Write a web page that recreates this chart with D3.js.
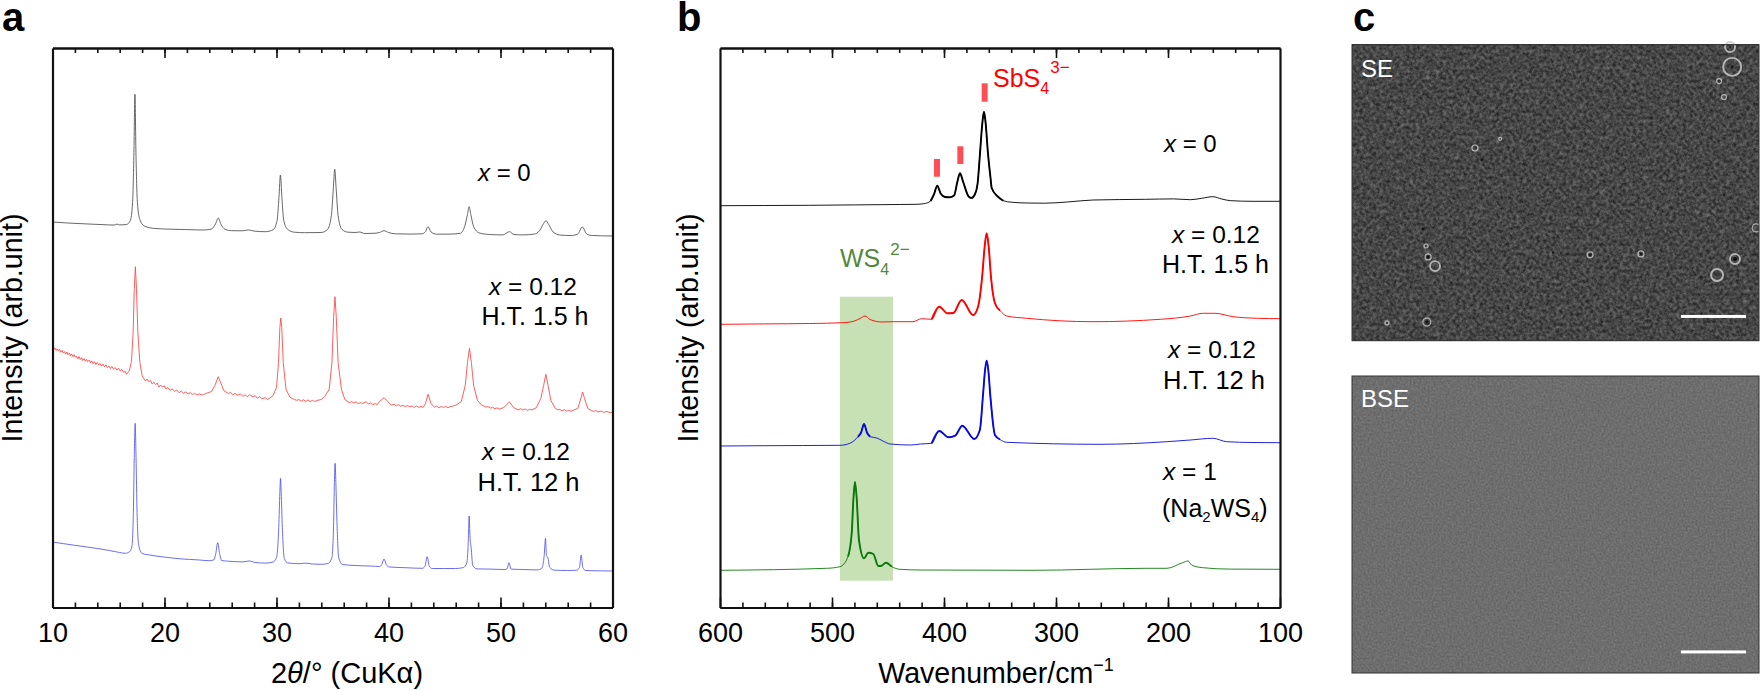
<!DOCTYPE html>
<html>
<head>
<meta charset="utf-8">
<script src="https://cdn.jsdelivr.net/npm/d3@7"></script>
<style>
  html, body { margin: 0; padding: 0; background: #fff; }
  text { font-family: "Liberation Sans", Arial, sans-serif; }
</style>
</head>
<body>
<div id="chart"></div>
<script>
// panel a: XRD patterns, [2theta, intensity]
const xrdBlack = [[10,385.5],[11.5,384.4],[13,383.6],[15,382.6],[15.5,382.4],[15.75,383.4],[16,382.6],[16.6,383],[16.95,387],[17.15,405],[17.27,455],[17.36,513.2],[17.45,455],[17.58,405],[17.8,388],[18.2,381.5],[19,379.2],[20.5,378.3],[22,377.9],[23.5,377.5],[24.2,378.5],[24.55,383.5],[24.8,389.5],[25.05,383],[25.4,378.2],[26,376.8],[27,376.7],[27.5,377.6],[28,376.4],[29,375.8],[29.7,377.8],[30.05,387],[30.22,410],[30.35,432.5],[30.48,410],[30.65,387],[31,378],[31.6,375.3],[32.5,374.8],[34,375],[34.55,378],[34.9,392],[35.08,420],[35.2,438.2],[35.32,420],[35.5,392],[35.85,378],[36.4,375.3],[37,375],[37.4,375.5],[37.9,374],[38.7,374.2],[39.2,375],[39.6,376.8],[40,375],[40.6,373.7],[42,373.4],[43,373.7],[43.3,375.8],[43.52,380.8],[43.8,375.5],[44.3,373.3],[45.5,373.4],[46.4,374.2],[46.8,381],[47.05,393],[47.2,400.8],[47.35,393],[47.6,381],[48.1,374.6],[49,373],[50.2,372.6],[50.8,375.8],[51.2,373],[52,372.6],[53,373.4],[53.5,377],[53.85,384],[54.06,386.8],[54.3,383],[54.7,375.5],[55.3,372.5],[56.3,372],[56.9,373.5],[57.3,380.5],[57.7,373.5],[58.2,372],[60,371.5]];
const xrdRed = [[10,259.5],[10.12,258.2],[10.21,259.6],[10.33,257],[10.42,258.6],[10.55,256.4],[10.63,258],[10.74,255.2],[10.86,257.2],[10.95,254.6],[11.08,255.9],[11.17,253.4],[11.29,255.6],[11.38,252.8],[11.5,254.4],[11.61,251.4],[11.7,253.6],[11.83,250.8],[11.92,252.8],[12.04,250.2],[12.13,251.4],[12.27,248.6],[12.36,251],[12.48,248],[12.6,249.8],[12.69,247],[12.82,249],[12.93,246.2],[13.05,248.2],[13.14,245.8],[13.28,247.4],[13.4,244.6],[13.5,246.6],[13.63,244],[13.75,245.8],[13.88,243],[14,245],[14.12,242.6],[14.26,244],[14.38,241.4],[14.5,243.4],[14.64,240.8],[14.77,242.6],[14.9,240],[15.03,241.6],[15.18,239],[15.3,241],[15.45,238.4],[15.6,240],[15.74,237.4],[15.9,239.2],[16.05,236.6],[16.2,238],[16.35,235.2],[16.5,236.2],[16.6,233.2],[16.85,236.5],[17.05,246],[17.2,275],[17.3,318],[17.4,340.8],[17.5,318],[17.62,275],[17.8,245],[18,232],[18.15,229],[18.3,226.5],[18.45,228.4],[18.6,225.8],[18.75,227],[18.9,223.4],[19.05,225.2],[19.2,222.8],[19.35,224.4],[19.5,220.4],[19.65,222.4],[19.8,220.6],[20,221.6],[20.1,218.6],[20.3,220],[20.5,217.2],[20.7,218.6],[20.9,216],[21.1,217.6],[21.3,214.8],[21.5,216.4],[21.7,214.2],[21.9,215.6],[22.1,213.4],[22.3,215],[22.5,212.8],[22.7,214.2],[22.9,212.4],[23.1,213.6],[23.4,212.4],[23.7,214],[23.9,214.8],[24.2,216],[24.5,222],[24.8,230.8],[25.05,224],[25.3,216.8],[25.5,215.4],[25.7,214],[25.9,215.2],[26.1,212.8],[26.3,214],[26.5,212.4],[26.8,213.4],[27,211.2],[27.2,212.6],[27.4,210.8],[27.6,212.8],[27.9,210.6],[28.1,211.8],[28.3,209.2],[28.5,210.8],[28.7,208.8],[29,209.8],[29.2,208],[29.4,209.4],[29.7,212],[30,220],[30.18,245],[30.3,280],[30.38,289.5],[30.47,280],[30.6,245],[30.85,218],[31.2,210.5],[31.4,209],[31.6,208],[31.8,207.2],[32,208],[32.2,206.2],[32.4,207.8],[32.6,206],[32.8,207.6],[33,205.8],[33.2,207.2],[33.4,206],[33.6,207],[34,208],[34.3,211],[34.7,218],[34.95,245],[35.1,290],[35.22,310.8],[35.34,290],[35.5,245],[35.8,218],[36.1,208],[36.3,206.4],[36.5,204.8],[36.7,206],[36.9,204.6],[37.1,205.6],[37.3,203.8],[37.5,205],[37.7,204],[38,205.8],[38.2,203.6],[38.4,204.6],[38.6,202.8],[38.8,203.8],[39,203],[39.2,206],[39.6,209.8],[39.95,205.8],[40.1,203.8],[40.3,202.4],[40.5,203.2],[40.7,201.6],[40.9,203],[41.1,201.2],[41.3,202.2],[41.5,200.8],[41.7,202],[41.9,200.6],[42.1,201.6],[42.3,200],[42.5,201.6],[42.7,200.2],[42.9,201],[43.1,200.2],[43.3,204],[43.53,213.2],[43.8,204],[44.1,200.2],[44.3,201.4],[44.5,199.8],[44.7,201],[44.9,200],[45.1,201.2],[45.3,199.8],[45.5,200.8],[45.7,201.2],[46.1,202.8],[46.5,206],[46.85,222],[47.05,245],[47.23,259.2],[47.4,245],[47.6,222],[47.95,207],[48.3,202.5],[48.5,201.6],[48.7,200.4],[48.9,201],[49.1,199.4],[49.3,200.2],[49.5,198.8],[49.7,199.6],[49.9,198.4],[50.3,200],[50.8,205.5],[51.2,199.6],[51.4,198.6],[51.6,197.6],[51.8,198.8],[52,197.4],[52.2,198.6],[52.4,197.2],[52.6,198.2],[52.8,197.6],[53.2,199.8],[53.6,209],[53.85,222],[54.05,233.2],[54.25,222],[54.5,207],[54.9,199],[55.1,197.8],[55.3,198],[55.5,196.8],[55.7,197.8],[55.9,196.4],[56.1,197.2],[56.3,196.2],[56.5,197.4],[56.9,199],[57.2,210],[57.33,215.5],[57.5,209],[57.8,199],[58.1,197],[58.3,196],[58.5,197],[58.7,195.6],[59,196.4],[59.2,195.2],[59.5,196],[59.8,194.8],[60,195]];
const xrdBlue = [[10,65.5],[11,63.8],[12,62.2],[13,60.6],[14,59],[15,57.2],[16,55],[16.5,54.2],[16.9,56],[17.1,62],[17.22,95],[17.3,150],[17.38,184.2],[17.46,150],[17.55,95],[17.7,62],[18,54],[18.5,52.8],[20,50.4],[21.5,48.6],[23,47.6],[24,46.8],[24.4,47.6],[24.58,54],[24.75,64.8],[24.92,54],[25.1,47],[25.6,46.4],[27,45.6],[27.6,46.6],[28,45.2],[29,44.4],[29.7,45.5],[30,50],[30.2,80],[30.3,115],[30.36,129.2],[30.42,115],[30.52,80],[30.7,49],[31,44.6],[32,43.8],[32.6,44.4],[33.2,43.5],[34,43.2],[34.6,44],[34.95,50],[35.1,85],[35.17,125],[35.23,144.2],[35.3,125],[35.4,85],[35.55,50],[35.9,43],[37,42],[38.5,41.4],[39.2,41],[39.4,43],[39.6,48.5],[39.8,43],[40,40.6],[41.5,39.8],[43,39.2],[43.25,41],[43.45,50.8],[43.65,41],[43.9,39],[45,39],[46,39],[46.7,40],[47,45],[47.12,65],[47.2,91.5],[47.28,70],[47.38,60],[47.52,42],[47.9,38.6],[49,38.4],[50.4,38],[50.6,39],[50.75,44.8],[50.95,38.4],[52,38],[53.3,37.6],[53.7,39.5],[53.9,52],[54.02,69.2],[54.1,52],[54.22,50],[54.4,40],[54.8,37.4],[56,37],[56.8,37.2],[57.05,40],[57.2,52.5],[57.35,40],[57.6,37],[60,36.5]];

// panel b: Raman spectra, [wavenumber, intensity]
const ramanBlack = [[600,401.8],[560,402],[520,402.2],[480,402.6],[440,403],[425,403.2],[418,403.8],[412,406.5],[409,413],[406,421.8],[403,414],[399,410.5],[395,410.2],[391,412],[388,426],[385.7,434.2],[383,426],[378,411],[375.5,409.5],[372.5,413],[370,424],[367.8,455],[365.8,484],[364.3,495.8],[362.8,484],[360.8,455],[358.5,430],[357.4,419.5],[352,411],[347,406.8],[340,405.3],[326,404.5],[310,404.3],[290,405.5],[267,407.5],[220,408.2],[195,408.6],[180,407.8],[170,409.2],[160,410.8],[152,408.5],[144,406.8],[125,406.2],[100,406.2]];
const ramanRed = [[600,283.2],[560,283.6],[520,284],[490,284.8],[480,286.5],[475,289],[470.5,291.5],[466,288],[455,285.5],[445.5,285.8],[427.7,285.8],[420,288.8],[411,288.2],[404.2,300.8],[397,294.2],[391.7,294.5],[384.2,307.5],[374,292.5],[369.6,300.8],[366,330],[363.6,362],[361.9,374.2],[360.2,362],[358,330],[354.5,304.2],[350,297],[344,291.5],[326,289.2],[267,285.8],[207,288.2],[180,291.5],[169,294.2],[158,294.2],[142,290.8],[120,289.2],[100,288.8]];
const ramanBlue = [[600,161.5],[560,161.8],[492.9,162.2],[484,164.2],[476.8,170.8],[474,175],[471.4,183.5],[468.8,175],[466,170.8],[460,169.5],[454.5,166.5],[448,163.5],[430,162.5],[421,163.5],[411,164.2],[404.2,176.5],[396,170.2],[390,171.8],[383.7,181.8],[373,168.5],[368,177.5],[365,215],[363.3,238],[361.9,246.8],[360.5,238],[358.5,210],[354.5,172.5],[350,168],[344,165.2],[260.7,163.2],[201,165.8],[180,167.5],[160,169.2],[147.6,165.8],[125,165],[100,164.8]];
const ramanGreen = [[600,37.2],[504.7,39.2],[492.9,40.8],[485.7,50.8],[482.4,74.5],[480.8,110],[479.5,125.5],[478,110],[475.9,67.5],[471.4,49.2],[467.6,54.8],[463.1,53.5],[458.7,41.5],[455.6,41.8],[452,44.8],[446.7,40.8],[439.3,38.2],[421,37.5],[320.5,37.2],[219,39.2],[201,39.2],[187,44.8],[182,46.5],[179,42.5],[169,39.8],[145,38.4],[100,38.2]];

// stretches of each spectrum that print heavier in the reference
const blackBold = [[416,345]];
const redBold = [[412,346]];
const blueBold = [[480,462],[412,346]];
const greenBold = [[490,446]];

// WS4 band and SbS4 markers
const bandWave = [492.9, 445.5];
const bandLevel = [26.8, 310.8];
const markerWave = [406.3, 385.4, 363.7];
const markerLow = [430.8, 443.5, 505.8];
const markerHigh = [448.5, 461.2, 524.2];

// ticks
const xrdMajor = [10, 20, 30, 40, 50, 60];
const xrdMinor = d3.range(12, 60, 2);
const ramanMajor = [600, 500, 400, 300, 200, 100];
const ramanMinor = d3.range(120, 600, 20);

// panel c: features on the SE micrograph, read on a 0-1000 image grid
const grainU = [302, 319, 364, 174, 187, 204, 182, 184, 86, 934, 929, 902, 914, 585, 710, 494, 941, 897, 993];
const grainV = [349, 389, 318, 623, 717, 748, 680, 937, 940, 75, 8, 123, 177, 710, 707, 703, 724, 778, 619];
const grainR = [3, 0, 1.5, 0, 3, 5, 2, 4, 2, 9, 5, 2.5, 2.5, 3, 3, 0, 5, 6, 4];
const grainDark = [0, 1.6, 0, 1.6, 1.6, 0, 0, 1.8, 0, 1.5, 1, 0, 0, 1.3, 1.3, 1.2, 2.2, 0, 0];

const width = 1760, height = 690;
const svg = d3.select('#chart').append('svg').attr('width', width).attr('height', height).style('display', 'block');

const x1 = d3.scaleLinear().domain([10, 60]).range([52.5, 612.5]);
const x2 = d3.scaleLinear().domain([600, 100]).range([720, 1280]);
const y = d3.scaleLinear().domain([0, 559.5]).range([607.5, 48]);

const seX = d3.scaleLinear().domain([0, 1000]).range([1352, 1759]);
const seY = d3.scaleLinear().domain([0, 1000]).range([44.7, 340.7]);
const bseY = d3.scaleLinear().domain([0, 1000]).range([376, 673]);

function label(x0, y0, parts, size, fill, anchor) {
  const t = svg.append('text').attr('x', x0).attr('y', y0).attr('font-size', size).attr('fill', fill || '#000');
  if (anchor) t.attr('text-anchor', anchor);
  parts.forEach(p => {
    const s = t.append('tspan').text(p.t);
    if (p.i) s.attr('font-style', 'italic');
    if (p.s) s.attr('font-size', p.s);
    if (p.dy) s.attr('dy', p.dy);
    if (p.dx) s.attr('dx', p.dx);
  });
  return t;
}

function drawFrame(x, major, minor, fmt) {
  const [a, b] = x.range();
  const g = svg.append('g').attr('class', 'frame');
  const inner = t => t !== x.domain()[0] && t !== x.domain()[1];
  g.append('g').attr('transform', `translate(0,${y(0)})`)
    .call(d3.axisBottom(x).tickValues(major).tickSizeInner(-10).tickSizeOuter(0).tickPadding(15).tickFormat(fmt))
    .call(s => s.selectAll('text').attr('font-size', 27).attr('fill', '#000').style('font-family', '"Liberation Sans"'));
  g.append('g').attr('transform', `translate(0,${y(0)})`)
    .call(d3.axisBottom(x).tickValues(minor).tickSizeInner(-5).tickSizeOuter(0).tickFormat(''));
  g.append('g').attr('transform', `translate(0,${y(559.5)})`)
    .call(d3.axisTop(x).tickValues(major.filter(inner)).tickSizeInner(-10).tickSizeOuter(0).tickFormat(''));
  g.append('g').attr('transform', `translate(0,${y(559.5)})`)
    .call(d3.axisTop(x).tickValues(minor).tickSizeInner(-5).tickSizeOuter(0).tickFormat(''));
  g.append('g').attr('transform', `translate(${a},0)`).call(d3.axisLeft(y).tickValues([]).tickSizeOuter(0));
  g.append('g').attr('transform', `translate(${b},0)`).call(d3.axisRight(y).tickValues([]).tickSizeOuter(0));
  g.selectAll('.domain').attr('stroke', '#111').attr('stroke-width', 2.2);
  g.selectAll('.tick line').attr('stroke', '#111').attr('stroke-width', 1.6);
}

function drawLine(x, data, color, w, opacity, bold, curve) {
  const line = d3.line().x(d => x(d[0])).y(d => y(d[1])).curve(curve || d3.curveMonotoneX);
  svg.append('path').attr('d', line(data)).attr('fill', 'none').attr('stroke', color)
    .attr('stroke-width', w).attr('opacity', opacity).attr('stroke-linejoin', 'round');
  (bold || []).forEach(r => {
    const part = data.filter(d => d[0] <= r[0] && d[0] >= r[1]);
    svg.append('path').attr('d', line(part)).attr('fill', 'none').attr('stroke', color)
      .attr('stroke-width', 1.9).attr('stroke-linejoin', 'round');
  });
}

// panel a
drawLine(x1, xrdBlack, '#444', 0.9, 0.9);
drawLine(x1, xrdRed, '#ff4d4d', 1, 0.9, null, d3.curveLinear);
drawLine(x1, xrdBlue, '#4a4ae6', 0.9, 0.9);
drawFrame(x1, xrdMajor, xrdMinor, d3.format('d'));

label(2, 31, [{ t: 'a' }], 40).attr('font-weight', 'bold');
label(22, 328, [{ t: 'Intensity (arb.unit)' }], 28.6, '#000', 'middle').attr('transform', 'rotate(-90 22 328)');
label(347, 683, [{ t: '2' }, { t: 'θ', i: 1 }, { t: '/° (CuKα)' }], 29, '#000', 'middle');

label(478, 181, [{ t: 'x', i: 1 }, { t: ' = 0' }], 24);
label(489, 295, [{ t: 'x', i: 1 }, { t: ' = 0.12' }], 24.5);
label(481.5, 325, [{ t: 'H.T. 1.5 h' }], 25);
label(482, 460, [{ t: 'x', i: 1 }, { t: ' = 0.12' }], 24.5);
label(477.5, 490.7, [{ t: 'H.T. 12 h' }], 25.5);

// panel b
svg.append('rect')
  .attr('x', x2(bandWave[0])).attr('width', x2(bandWave[1]) - x2(bandWave[0]))
  .attr('y', y(bandLevel[1])).attr('height', y(bandLevel[0]) - y(bandLevel[1]))
  .attr('fill', '#c7e1b5');

drawLine(x2, ramanBlack, '#000', 0.9, 1, blackBold);
drawLine(x2, ramanRed, '#f00', 0.9, 1, redBold);
drawLine(x2, ramanBlue, '#0a0ad8', 0.9, 1, blueBold);
drawLine(x2, ramanGreen, '#0b7a0b', 0.9, 1, greenBold);

svg.selectAll('.marker').data(markerWave).enter().append('rect').attr('class', 'marker')
  .attr('x', d => x2(d) - 3).attr('width', 6)
  .attr('y', (d, i) => y(markerHigh[i])).attr('height', (d, i) => y(markerLow[i]) - y(markerHigh[i]))
  .attr('fill', '#ff4d55');

drawFrame(x2, ramanMajor, ramanMinor, d3.format('d'));

label(677, 31, [{ t: 'b' }], 40).attr('font-weight', 'bold');
label(698, 328, [{ t: 'Intensity (arb.unit)' }], 28.6, '#000', 'middle').attr('transform', 'rotate(-90 698 328)');
label(996, 683, [{ t: 'Wavenumber/cm' }, { t: '−1', s: 18, dy: -12 }], 28.6, '#000', 'middle');

label(993, 87, [{ t: 'SbS' }, { t: '4', s: 16, dy: 7 }, { t: '3−', s: 17, dy: -21, dx: 1 }], 25, '#f00');
label(840, 267, [{ t: 'WS' }, { t: '4', s: 16, dy: 8 }, { t: '2−', s: 17, dy: -20, dx: 1 }], 25, '#55883b');

label(1164, 152, [{ t: 'x', i: 1 }, { t: ' = 0' }], 24);
label(1172, 243, [{ t: 'x', i: 1 }, { t: ' = 0.12' }], 24.5);
label(1162, 273, [{ t: 'H.T. 1.5 h' }], 25);
label(1168, 358, [{ t: 'x', i: 1 }, { t: ' = 0.12' }], 24.5);
label(1163, 389, [{ t: 'H.T. 12 h' }], 25.5);
label(1163, 480, [{ t: 'x', i: 1 }, { t: ' = 1' }], 24.5);
label(1162, 517, [{ t: '(Na' }, { t: '2', s: 15, dy: 5 }, { t: 'WS', dy: -5 }, { t: '4', s: 15, dy: 5 }, { t: ')', dy: -5 }], 25);

// panel c: micrographs, grain texture from a noise filter
const defs = svg.append('defs');
function noiseFilter(id, freq, octaves, seed, gain, offset) {
  const f = defs.append('filter').attr('id', id).attr('x', 0).attr('y', 0).attr('width', '100%').attr('height', '100%')
    .attr('color-interpolation-filters', 'sRGB');
  f.append('feTurbulence').attr('type', 'fractalNoise').attr('baseFrequency', freq).attr('numOctaves', octaves).attr('seed', seed);
  const row = `${gain} 0 0 0 ${offset}`;
  f.append('feColorMatrix').attr('type', 'matrix').attr('values', `${row} ${row} ${row} 0 0 0 0 1`);
}
noiseFilter('seNoise', 0.3, 3, 7, 0.4, 0.07);
noiseFilter('bseNoise', 0.5, 2, 3, 0.16, 0.35);

// sparse bright specks on the SE image
const speck = defs.append('filter').attr('id', 'seSpeck').attr('x', 0).attr('y', 0).attr('width', '100%').attr('height', '100%')
  .attr('color-interpolation-filters', 'sRGB');
speck.append('feTurbulence').attr('type', 'fractalNoise').attr('baseFrequency', 0.2).attr('numOctaves', 2).attr('seed', 11);
speck.append('feColorMatrix').attr('type', 'matrix')
  .attr('values', '0 0 0 0 0.8  0 0 0 0 0.8  0 0 0 0 0.8  6 0 0 0 -3.7');
speck.append('feGaussianBlur').attr('stdDeviation', 0.8);

defs.append('filter').attr('id', 'soft').append('feGaussianBlur').attr('stdDeviation', 0.5);

svg.append('rect').attr('x', seX(0)).attr('y', seY(0)).attr('width', seX(1000) - seX(0)).attr('height', seY(1000) - seY(0))
  .attr('fill', '#4a4a4a').attr('filter', 'url(#seNoise)');
svg.append('rect').attr('x', seX(0)).attr('y', seY(0)).attr('width', seX(1000) - seX(0)).attr('height', seY(1000) - seY(0))
  .attr('fill', '#fff').attr('filter', 'url(#seSpeck)').attr('opacity', 0.22);
svg.append('rect').attr('x', seX(0)).attr('y', bseY(0)).attr('width', seX(1000) - seX(0)).attr('height', bseY(1000) - bseY(0))
  .attr('fill', '#6e6e6e').attr('filter', 'url(#bseNoise)');

const grains = svg.append('g').attr('filter', 'url(#soft)').attr('opacity', 0.85);
grains.append('g').selectAll('circle').data(grainU.map((u, i) => i).filter(i => grainR[i] > 0)).enter().append('circle')
  .attr('cx', i => seX(grainU[i])).attr('cy', i => seY(grainV[i])).attr('r', i => grainR[i])
  .attr('fill', 'none').attr('stroke', '#c8c8c8').attr('stroke-width', i => grainR[i] > 4 ? 1.9 : 1.2);
grains.append('g').selectAll('circle').data(grainU.map((u, i) => i).filter(i => grainDark[i] > 0)).enter().append('circle')
  .attr('cx', i => seX(grainU[i])).attr('cy', i => seY(grainV[i])).attr('r', i => grainDark[i])
  .attr('fill', '#0c0c0c');

[[seY, 'SE', 77, 918], [bseY, 'BSE', 407, 929]].forEach(([sy, name, base, bar]) => {
  svg.append('rect').attr('x', seX(0)).attr('y', sy(0)).attr('width', seX(1000) - seX(0)).attr('height', sy(1000) - sy(0))
    .attr('fill', 'none').attr('stroke', '#333').attr('stroke-width', 1);
  label(1361, base, [{ t: name }], 24, '#fff');
  svg.append('rect').attr('x', seX(808)).attr('width', seX(968) - seX(808)).attr('y', sy(bar) - 1.5).attr('height', 3).attr('fill', '#fff');
});

label(1353, 31, [{ t: 'c' }], 40).attr('font-weight', 'bold');
</script>
</body>
</html>
